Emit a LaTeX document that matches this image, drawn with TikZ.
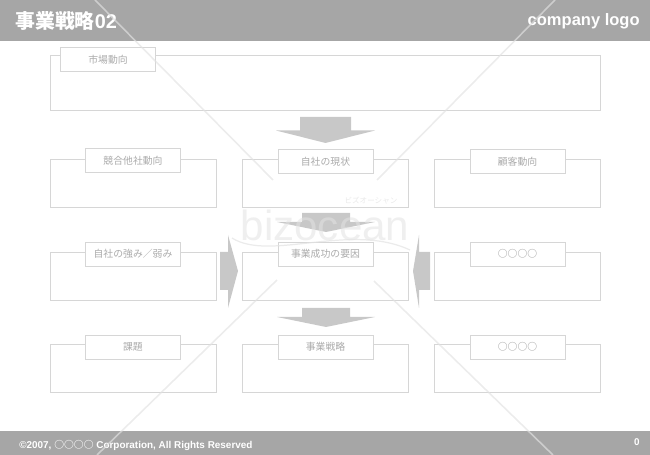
\documentclass[tikz,border=0pt]{standalone}
\usepackage{fontspec}
\setmainfont{Liberation Sans}
\newfontfamily\jpfont{Noto Sans CJK JP}
\definecolor{bandgray}{HTML}{A6A6A6}
\definecolor{linegray}{HTML}{D6D6D6}
\definecolor{textgray}{HTML}{ABABAB}
\definecolor{arrowgray}{HTML}{C8C8C8}
\definecolor{markgray}{HTML}{E2E2E2}
\tikzset{
  outerbox/.style={draw=linegray, line width=0.55pt, minimum width=3.32cm, minimum height=0.96cm, inner sep=0pt},
  tabbox/.style={draw=linegray, line width=0.55pt, fill=white, minimum width=1.9cm, minimum height=0.48cm, inner sep=0pt, text=textgray, font=\jpfont\fontsize{5.6}{6.5}\selectfont},
  bandtext/.style={text=white, inner sep=0pt, font=\bfseries},
  blockarrow/.style={fill=arrowgray, draw=none},
  markline/.style={draw=markgray, line width=0.9pt, opacity=0.65},
}
\begin{document}
\begin{tikzpicture}[x=0.02cm,y=-0.02cm]
\useasboundingbox (0,0) rectangle (650,455);
% bands
\fill[bandgray] (0,0) rectangle (650,41);
\fill[bandgray] (0,431) rectangle (650,455);
\node (title) [bandtext, anchor=west, font=\bfseries\fontsize{11.3}{13}\selectfont] at (15,21) {{\jpfont 事業戦略}02};
\node (logo) [bandtext, anchor=east, font=\bfseries\fontsize{9.4}{11}\selectfont] at (640,21) {company logo};
\node (copyright) [bandtext, anchor=west, font=\bfseries\fontsize{5.65}{6}\selectfont] at (19,445) {©2007, {\jpfont\fontsize{5.6}{6}\selectfont ○○○○} Corporation, All Rights Reserved};
\node (pageno) [bandtext, anchor=east, font=\bfseries\fontsize{5.6}{6}\selectfont] at (640,442) {0};
% arrows
\fill[blockarrow] (300,117) -- (351,117) -- (351,130.5) -- (375,130.5) -- (325.5,143) -- (276,130.5) -- (300,130.5) -- cycle;
\fill[blockarrow] (302,213) -- (350,213) -- (350,222) -- (375,222) -- (326,232) -- (277,222) -- (302,222) -- cycle;
\fill[blockarrow] (302,308) -- (350,308) -- (350,317) -- (375,317) -- (326,327) -- (277,317) -- (302,317) -- cycle;
\fill[blockarrow] (220,252) -- (228,252) -- (228,235) -- (238,271) -- (228,308) -- (228,290) -- (220,290) -- cycle;
\fill[blockarrow] (430,252) -- (419,252) -- (419,235) -- (413,271) -- (419,308) -- (419,290) -- (430,290) -- cycle;
% boxes
\node (market) [outerbox, minimum width=11.02cm, minimum height=1.11cm] at (325.5,83) {};
\node (rival) [outerbox] at (133,183) {};
\node (current) [outerbox] at (325,183) {};
\node (customer) [outerbox] at (517.5,183) {};
\node (strength) [outerbox] at (133,276) {};
\node (factor) [outerbox] at (325,276) {};
\node (blankmid) [outerbox] at (517.5,276) {};
\node (issue) [outerbox] at (133,368.5) {};
\node (strategy) [outerbox] at (325,368.5) {};
\node (blanklow) [outerbox] at (517.5,368.5) {};
% tabs
\node (markettab) [tabbox] at (108,59.5) {市場動向};
\node (rivaltab) [tabbox] at (133,160.5) {競合他社動向};
\node (currenttab) [tabbox] at (325.5,161.5) {自社の現状};
\node (customertab) [tabbox] at (517.5,161.5) {顧客動向};
\node (strengthtab) [tabbox] at (133,254) {自社の強み／弱み};
\node (factortab) [tabbox] at (325.5,254) {事業成功の要因};
\node (blankmidtab) [tabbox, font=\jpfont\bfseries\fontsize{5.6}{6.5}\selectfont] at (517.5,254) {○○○○};
\node (issuetab) [tabbox] at (133,347) {課題};
\node (strategytab) [tabbox] at (325.5,347) {事業戦略};
\node (blanklowtab) [tabbox, font=\jpfont\bfseries\fontsize{5.6}{6.5}\selectfont] at (517.5,347) {○○○○};
% watermark
\draw[markline] (95,0) -- (273,180);
\draw[markline] (555,0) -- (377,180);
\draw[markline] (277,280) -- (97,455);
\draw[markline] (374,281) -- (553,455);
\node (markname) [text=markgray, opacity=0.55, inner sep=0pt, font=\fontsize{24}{27}\selectfont] at (325,225) {bizocean};
\node (markkana) [text=markgray, opacity=0.8, inner sep=0pt, font=\jpfont\fontsize{4.3}{5}\selectfont] at (371,201) {ビズオーシャン};
\draw[markgray, opacity=0.7, line width=0.7pt] (232,238) .. controls (270,262) and (350,222) .. (410,250);
\end{tikzpicture}
\end{document}
